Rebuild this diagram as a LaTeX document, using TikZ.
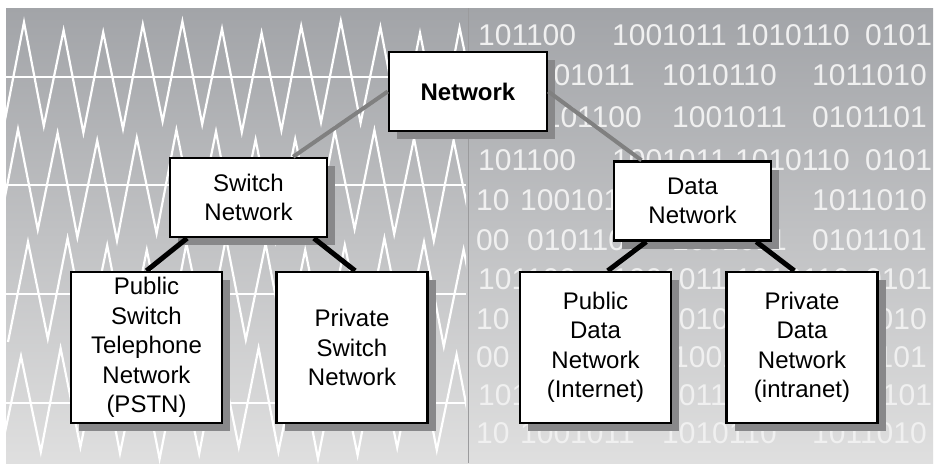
\documentclass[tikz,border=0pt]{standalone}
\usepackage{fontspec}
\setmainfont{Liberation Sans}
\newfontfamily\bitfont{Liberation Sans}
\usetikzlibrary{shadows,calc}
\definecolor{bgtop}{RGB}{162,164,168}
\definecolor{bgmid}{RGB}{192,193,196}
\definecolor{bgbot}{RGB}{223,223,223}
\definecolor{shadowgray}{RGB}{136,136,138}
\definecolor{conngray}{RGB}{128,128,128}
\definecolor{bitcolor}{RGB}{240,240,240}
\definecolor{dividercol}{RGB}{155,155,157}
\tikzset{
  box/.style={draw=black, line width=2.5pt, fill=white, align=center, inner sep=0pt,
    font=\fontsize{24}{29.5}\selectfont,
    drop shadow={shadow xshift=8pt, shadow yshift=-8pt, fill=shadowgray, opacity=1}},
  smallbox/.style={box, minimum width=157pt, minimum height=79pt},
  bigbox/.style={box, minimum width=151pt, minimum height=151pt},
  graylink/.style={draw=conngray, line width=4pt},
  blacklink/.style={draw=black, line width=5pt},
  wave/.style={draw=white, line width=2.2pt, line join=miter},
  bits/.style={anchor=base west, inner sep=0pt, text=bitcolor, font=\fontsize{30}{30}\bitfont},
}
\begin{document}
\begin{tikzpicture}[x=1pt,y=-1pt]
\useasboundingbox (0,0) rectangle (937,464);
\fill[white] (0,0) rectangle (937,464);
\shade[top color=bgtop, middle color=bgmid, bottom color=bgbot] (6,8) rectangle (933,463);
% waves on the left half
\begin{scope}
  \clip (6,8) rectangle (466,463);
  \foreach \ax/\sh [count=\r] in {77/0,185/-6,294/4,403/-3}{
    \draw[wave] (6,\ax) -- (466,\ax);
    \draw[wave] ({4+\sh},{\ax+48}) \foreach \k in {0,...,24}{
      -- ({24+\sh+\k*19.8},{\ax-(1-2*mod(\k,2))*(50+6*sin(\k*137+\r*53))}) };
  }
\end{scope}
% divider
\draw[dividercol, line width=1pt] (468,8) -- (468,463);
% binary digits on the right half
\begin{scope}
  \clip (468,8) rectangle (933,463);
  \foreach \b in {45,170,289,405}{
    \node[bits] at (478,\b) {101100};
    \node[bits] at (612,\b) {1001011};
    \node[bits] at (735,\b) {1010110};
    \node[bits] at (865,\b) {0101};
  }
  \foreach \b in {85,210,329,443}{
    \node[bits] at (476,\b) {10};
    \node[bits] at (520,\b) {1001011};
    \node[bits] at (662,\b) {1010110};
    \node[bits] at (812,\b) {1011010};
  }
  \foreach \b in {127,250,367}{
    \node[bits] at (476,\b) {00};
    \node[bits] at (527,\b) {0101100};
    \node[bits] at (672,\b) {1001011};
    \node[bits] at (812,\b) {0101101};
  }
\end{scope}
% nodes
\node[smallbox, minimum width=158pt] (net) at (468,91.5) {\textbf{Network}};
\node[smallbox] (sw) at (248.5,197.5) {Switch\\Network};
\node[smallbox] (dn) at (692.5,201) {Data\\Network};
\node[bigbox] (pstn) at (146.5,347.5) {Public\\Switch\\Telephone\\Network\\(PSTN)};
\node[bigbox] (psn) at (352,347.5) {Private\\Switch\\Network};
\node[bigbox] (pdn) at (595.5,347.5) {Public\\Data\\Network\\(Internet)};
\node[bigbox] (prdn) at (802,347.5) {Private\\Data\\Network\\(intranet)};
% connectors
\draw[graylink] (net.west) -- ($(sw.north west)!0.78!(sw.north east)$);
\draw[graylink] (net.east) -- ($(dn.north west)!0.18!(dn.north east)$);
\draw[blacklink] ($(sw.south west)!0.115!(sw.south east)$) -- ($(pstn.north west)!0.5!(pstn.north east)$);
\draw[blacklink] ($(sw.south west)!0.91!(sw.south east)$) -- ($(psn.north west)!0.52!(psn.north east)$);
\draw[blacklink] ($(dn.south west)!0.21!(dn.south east)$) -- ($(pdn.north west)!0.58!(pdn.north east)$);
\draw[blacklink] ($(dn.south west)!0.90!(dn.south east)$) -- ($(prdn.north west)!0.45!(prdn.north east)$);
\end{tikzpicture}
\end{document}
